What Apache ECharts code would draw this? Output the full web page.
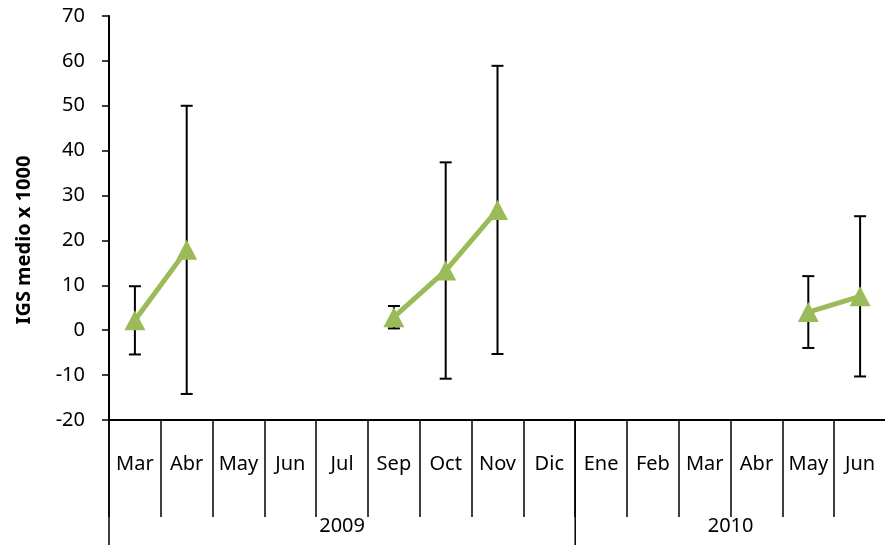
<!DOCTYPE html>
<html>
<head>
<meta charset="utf-8">
<script src="https://cdn.jsdelivr.net/npm/echarts@6/dist/echarts.min.js"></script>
<style>html,body{margin:0;padding:0;background:#fff}#c{width:885px;height:545px}</style>
</head>
<body>
<div id="c"></div>
<script>
var categories = ['Mar','Abr','May','Jun','Jul','Sep','Oct','Nov','Dic','Ene','Feb','Mar','Abr','May','Jun'];
var means  = [2.2, 17.9, null, null, null, 2.9, 13.3, 26.8, null, null, null, null, null, 4.05, 7.55];
var errors = [7.6, 32.1, null, null, null, 2.5, 24.1, 32.1, null, null, null, null, null, 8.0, 17.85];
var years = ['2009', '2010'];
var yearStart = [0, 9];
var yearEnd = [8, 14];
var yTicks = [-20, -10, 0, 10, 20, 30, 40, 50, 60, 70];

var FONT = 'Noto Sans';
var errData = [];
for (var i = 0; i < means.length; i++) {
  if (means[i] !== null) errData.push([i, means[i] - errors[i], means[i] + errors[i]]);
}
var groupData = years.map(function (y, k) { return [yearStart[k], yearEnd[k], y]; });

var chart = echarts.init(document.getElementById('c'), null, {renderer: 'canvas'});
chart.setOption({
  animation: false,
  backgroundColor: '#fff',
  grid: {left: 109, top: 16, width: 777, height: 404, containLabel: false, outerBoundsMode: 'none'},
  xAxis: {
    type: 'category',
    data: categories,
    boundaryGap: true,
    axisLine: {show: true, onZero: false, lineStyle: {color: '#000', width: 2}},
    axisTick: {show: true, interval: 0, length: 97, lineStyle: {color: '#000', width: 1.5}},
    axisLabel: {interval: 0, margin: 34, color: '#000', fontFamily: FONT, fontSize: 20},
    splitLine: {show: false}
  },
  yAxis: {
    type: 'value',
    min: yTicks[0], max: yTicks[yTicks.length - 1], interval: 10,
    name: 'IGS medio x 1000',
    nameLocation: 'middle',
    nameGap: 75,
    nameRotate: 90,
    nameTextStyle: {color: '#000', fontFamily: FONT, fontSize: 20, fontWeight: 'bold', padding: [0, 44, 0, 0]},
    axisLine: {show: true, lineStyle: {color: '#000', width: 2}},
    axisTick: {show: true, length: 7, lineStyle: {color: '#000', width: 1.5}},
    axisLabel: {margin: 24, color: '#000', fontFamily: FONT, fontSize: 20},
    splitLine: {show: false}
  },
  series: [
    {
      type: 'custom',
      name: 'err',
      z: 2,
      silent: true,
      data: errData,
      encode: {x: 0, y: [1, 2]},
      renderItem: function (params, api) {
        var x = api.value(0);
        var lo = api.coord([x, api.value(1)]);
        var hi = api.coord([x, api.value(2)]);
        var cw = 6;
        var st = {stroke: '#000', lineWidth: 2};
        return {
          type: 'group',
          children: [
            {type: 'line', shape: {x1: lo[0], y1: lo[1], x2: hi[0], y2: hi[1]}, style: st},
            {type: 'line', shape: {x1: lo[0] - cw, y1: lo[1], x2: lo[0] + cw, y2: lo[1]}, style: st},
            {type: 'line', shape: {x1: hi[0] - cw, y1: hi[1], x2: hi[0] + cw, y2: hi[1]}, style: st}
          ]
        };
      }
    },
    {
      type: 'line',
      name: 'IGS',
      z: 3,
      data: means,
      connectNulls: false,
      symbol: 'triangle',
      symbolSize: [21, 20],
      showAllSymbol: true,
      lineStyle: {color: '#9BBB59', width: 5},
      itemStyle: {color: '#9BBB59', borderWidth: 0}
    },
    {
      type: 'custom',
      name: 'groups',
      silent: true,
      clip: false,
      z: 1,
      data: groupData,
      encode: {x: [0, 1]},
      renderItem: function (params, api) {
        var s = api.value(0), e = api.value(1);
        var bw = api.size([1, 0])[0];
        var p0 = api.coord([s, yTicks[0]]);
        var p1 = api.coord([e, yTicks[0]]);
        var x0 = p0[0] - bw / 2, x1 = p1[0] + bw / 2;
        var y0 = p0[1];
        return {
          type: 'group',
          children: [
            {type: 'line', shape: {x1: x0, y1: y0, x2: x0, y2: y0 + 130}, style: {stroke: '#000', lineWidth: 1.5}},
            {type: 'text', style: {text: api.value(2), x: (x0 + x1) / 2, y: y0 + 106, align: 'center', verticalAlign: 'middle', fill: '#000', font: '20px "' + FONT + '"'}}
          ]
        };
      }
    }
  ]
});
</script>
</body>
</html>
